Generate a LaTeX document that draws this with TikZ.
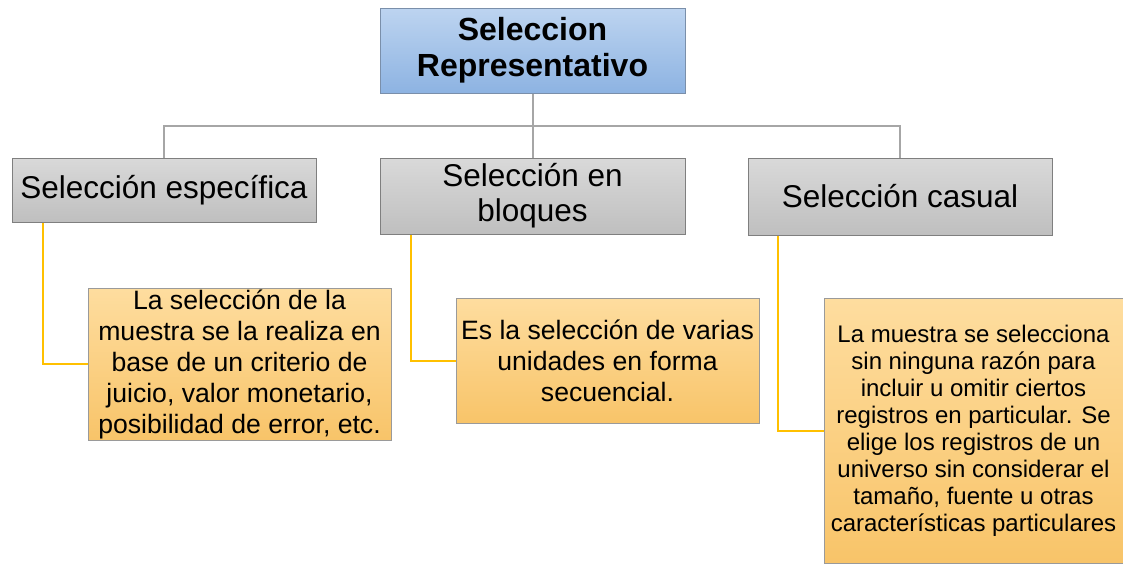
\documentclass[tikz,border=0pt]{standalone}
\usepackage{fontspec}
\setmainfont{Liberation Sans}
\usepackage{tikz}

\definecolor{rootTop}{HTML}{BDD4F0}
\definecolor{rootBot}{HTML}{8DB3E2}
\definecolor{rootLine}{HTML}{7A8FAA}
\definecolor{grayTop}{HTML}{D9D9D9}
\definecolor{grayBot}{HTML}{BFBFBF}
\definecolor{grayLine}{HTML}{7F7F7F}
\definecolor{leafTop}{HTML}{FEDD9F}
\definecolor{leafBot}{HTML}{F8C469}
\definecolor{leafLine}{HTML}{9A9A9A}
\definecolor{busLine}{HTML}{A6A6A6}
\definecolor{goldLine}{HTML}{FFC000}

\begin{document}
\begin{tikzpicture}[x=1pt,y=-1pt]
\tikzstyle{every node}+=[inner sep=0pt, align=center]
\tikzstyle{rootbox}=[draw=rootLine, line width=1pt, top color=rootTop, bottom color=rootBot,
  font=\fontsize{32}{36}\selectfont\bfseries]
\tikzstyle{typebox}=[draw=grayLine, line width=1pt, top color=grayTop, bottom color=grayBot,
  font=\fontsize{31.5}{35}\selectfont]
\tikzstyle{notebox}=[draw=leafLine, line width=1pt, top color=leafTop, bottom color=leafBot,
  font=\fontsize{26.6}{31}\selectfont]
\tikzstyle{bus}=[draw=busLine, line width=2pt]
\tikzstyle{link}=[draw=goldLine, line width=2pt]
\useasboundingbox (0,0) rectangle (1123,563);
% top
\node [rootbox, minimum width=305pt, minimum height=85pt] (root) at (532.5,50.5)
  {Seleccion\\Representativo};
% kinds
\node [typebox, minimum width=304pt, minimum height=64pt] (spec) at (164,190)
  {Selección específica};
\node [typebox, minimum width=305pt, minimum height=76pt] (block) at (532.5,196)
  {Selección en\\bloques};
\node [typebox, minimum width=304pt, minimum height=77pt] (casual) at (900,196.5)
  {Selección casual};
% notes
\node [notebox, minimum width=303pt, minimum height=152pt] (specnote) at (239.5,364)
  {La selección de la\\muestra se la realiza en\\base de un criterio de\\juicio, valor monetario,\\posibilidad de error, etc.};
\node [notebox, minimum width=303pt, minimum height=125pt] (blocknote) at (607.5,360.5)
  {Es la selección de varias\\unidades en forma\\secuencial.};
\node [notebox, minimum width=299pt, minimum height=265pt, font=\fontsize{24}{27}\selectfont]
  (casualnote) at (973.5,430.5)
  {La muestra se selecciona\\sin ninguna razón para\\incluir u omitir ciertos\\registros en particular. Se\\elige los registros de un\\universo sin considerar el\\tamaño, fuente u otras\\características particulares};
% tree lines
\coordinate (hub) at (532.5,126);
\draw [bus] (root.south) -- (hub);
\draw [bus] (hub) -| (spec.north);
\draw [bus] (hub) -- (block.north);
\draw [bus] (hub) -| (casual.north);
\draw [link] ([xshift=31pt]spec.south west) |- (specnote.west);
\draw [link] ([xshift=31pt]block.south west) |- (blocknote.west);
\draw [link] ([xshift=30pt]casual.south west) |- (casualnote.west);
\end{tikzpicture}
\end{document}
